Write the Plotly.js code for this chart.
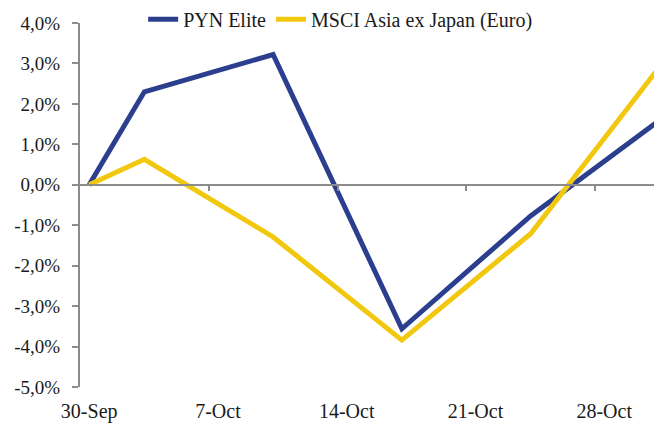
<!DOCTYPE html>
<html>
<head>
<meta charset="utf-8">
<script src="https://cdn.plot.ly/plotly-3.0.1.min.js"></script>
<style>html,body{margin:0;padding:0;background:#fff;overflow:hidden;}#chart{width:654px;height:430px;}</style>
</head>
<body>
<div id="chart"></div>
<script>
const dates = ['2014-09-30','2014-10-03','2014-10-10','2014-10-17','2014-10-24','2014-10-31'];
const pynElite = [0.0, 2.30, 3.22, -3.56, -0.77, 1.59];
const msciAsia = [0.0, 0.63, -1.29, -3.84, -1.21, 2.91];
const xTickVals = ['2014-09-30','2014-10-07','2014-10-14','2014-10-21','2014-10-28'];
const xTickText = ['30-Sep','7-Oct','14-Oct','21-Oct','28-Oct'];
const xMinorTicks = ['2014-10-06 12:00','2014-10-13 12:00','2014-10-20 12:00','2014-10-27 12:00'];
const yTickVals = [4,3,2,1,0,-1,-2,-3,-4,-5];
const yTickText = ['4,0%','3,0%','2,0%','1,0%','0,0%','-1,0%','-2,0%','-3,0%','-4,0%','-5,0%'];

const xRange = ['2014-09-29 12:00','2014-10-30 17:00'];
const gray = '#8c8c8c';
const fam = 'Liberation Serif, Times New Roman, serif';
const font = {family:fam, size:19, color:'#1a1a1a'};
const fontL = {family:fam, size:20, color:'#1a1a1a'};

const traces = [
  {x: dates, y: pynElite, name:'PYN Elite', type:'scatter', mode:'lines',
   line:{color:'#2c3f8f', width:5}, hoverinfo:'skip'},
  {x: dates, y: msciAsia, name:'MSCI Asia ex Japan (Euro)', type:'scatter', mode:'lines',
   line:{color:'#f2c80f', width:5}, hoverinfo:'skip'},
  {x: dates, y: pynElite, xaxis:'x2', type:'scatter', mode:'lines', opacity:0,
   line:{width:0}, showlegend:false, hoverinfo:'skip'}
];

const layout = {
  width:654, height:430,
  margin:{l:80, r:0, t:23, b:43, autoexpand:false},
  paper_bgcolor:'#fff', plot_bgcolor:'#fff',
  font: font,
  showlegend:true,
  legend:{orientation:'h', x:0.11, xanchor:'left', y:1.064, yanchor:'top',
          font:fontL, bgcolor:'rgba(0,0,0,0)', itemwidth:30, tracegroupgap:0},
  xaxis:{type:'date', range:xRange, tickmode:'array', tickvals:xTickVals, ticktext:xTickText,
         showline:false, showgrid:false, zeroline:false, ticks:'', tickfont:fontL, fixedrange:true,
         automargin:false, ticklabelstandoff:10},
  xaxis2:{type:'date', range:xRange, overlaying:'x', anchor:'free', position:5/9, side:'bottom',
          tickmode:'array', tickvals:xMinorTicks, showticklabels:false, automargin:false,
          showline:true, linecolor:gray, linewidth:2, ticks:'outside', ticklen:5, tickwidth:2, tickcolor:gray,
          showgrid:false, zeroline:false},
  yaxis:{range:[-5,4], tickmode:'array', tickvals:yTickVals, ticktext:yTickText, automargin:false,
         showline:true, linecolor:gray, linewidth:2, ticks:'outside', ticklen:6, tickwidth:2, tickcolor:gray,
         showgrid:false, zeroline:false, tickfont:font, ticklabelstandoff:8}
};

Plotly.newPlot('chart', traces, layout, {displayModeBar:false, staticPlot:true});
</script>
</body>
</html>
